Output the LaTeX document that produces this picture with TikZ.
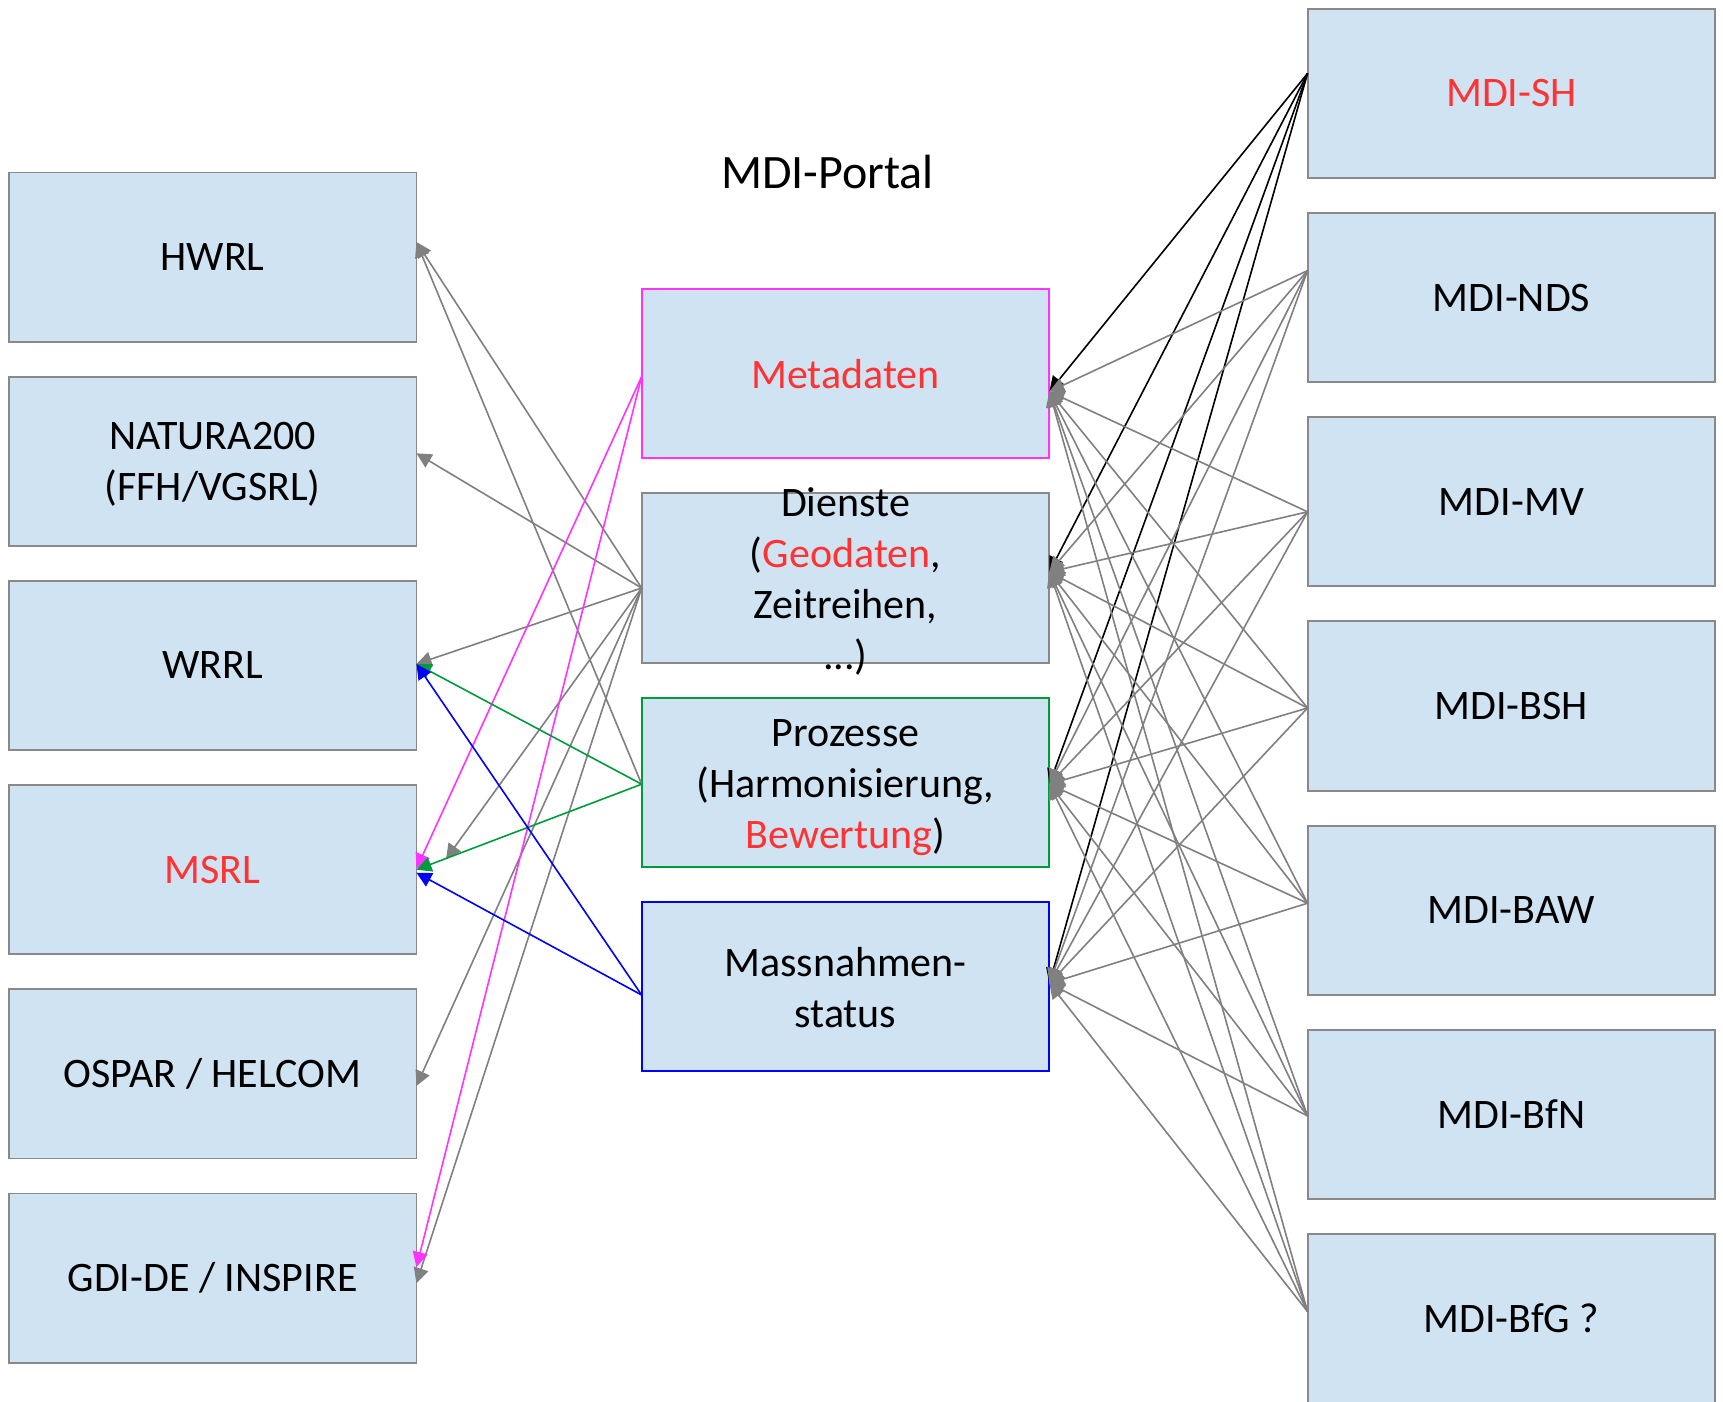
\documentclass[tikz,border=0pt]{standalone}
\usepackage{fontspec}
\setmainfont{Carlito}
\usetikzlibrary{arrows.meta,calc}
\definecolor{boxfill}{RGB}{207,227,242}
\definecolor{boxline}{RGB}{137,137,137}
\definecolor{conngray}{RGB}{128,128,128}
\definecolor{txtred}{RGB}{255,51,51}
\definecolor{magline}{RGB}{255,51,255}
\definecolor{grnline}{RGB}{0,155,60}
\definecolor{bluline}{RGB}{0,0,255}
\begin{document}
\begin{tikzpicture}[x=1pt,y=-1pt,
  box/.style={draw=boxline, fill=boxfill, line width=1.9pt, minimum width=407.7pt,
    minimum height=169.2pt, inner sep=0pt, outer sep=0pt, align=center,
    font=\fontsize{42}{51}\selectfont},
  lbl/.style={inner sep=0pt, align=center, font=\fontsize{42}{51}\selectfont},
  conn/.style={line width=1.6pt, -{Triangle[length=15pt,width=15pt]}},
  gconn/.style={conn, conngray},
  kconn/.style={conn, black},
  mconn/.style={conn, magline},
  grconn/.style={conn, grnline},
  bconn/.style={conn, bluline}
]
\useasboundingbox (0,0) rectangle (1723,1401);
\fill[white] (0,0) rectangle (1723,1401);

% title
\node[anchor=base, font=\fontsize{48}{58}\selectfont] (title) at (827.5,188.3) {MDI-Portal};

% left column
\node[box] (hwrl)   at (212.6,257.1)  {HWRL};
\node[box] (natura) at (212.6,461.3)  {};
\node[lbl] (naturatxt) at ($(natura.center)+(0,3.3)$) {NATURA200\\(FFH/VGSRL)};
\node[box] (wrrl)   at (212.6,665.5)  {WRRL};
\node[box] (msrl)   at (212.6,869.7)  {\textcolor{txtred}{MSRL}};
\node[box] (ospar)  at (212.6,1073.9) {OSPAR / HELCOM};
\node[box] (gdi)    at (212.6,1278.1) {GDI-DE / INSPIRE};

% middle column
\node[box, draw=magline] (meta)    at (845.5,373.6) {\textcolor{txtred}{Metadaten}};
\node[box]               (dienste) at (845.5,578.0) {};
\node[lbl] (diensttxt) at ($(dienste.center)+(0,3.8)$) {Dienste\\(\textcolor{txtred}{Geodaten},\\Zeitreihen,\\...)};
\node[box, draw=grnline] (proz)    at (845.5,782.2) {};
\node[lbl] (proztxt) at ($(proz.center)+(0,5.5)$) {Prozesse\\(Harmonisierung,\\\textcolor{txtred}{Bewertung})};
\node[box, draw=bluline] (mass)    at (845.5,986.4) {};
\node[lbl] (masstxt) at ($(mass.center)+(0,0.8)$) {Massnahmen-\\status};

% right column
\node[box] (sh)  at (1511.4,93.4)   {\textcolor{txtred}{MDI-SH}};
\node[box] (nds) at (1511.4,297.6)  {MDI-NDS};
\node[box] (mv)  at (1511.4,501.8)  {MDI-MV};
\node[box] (bsh) at (1511.4,706.0)  {MDI-BSH};
\node[box] (baw) at (1511.4,910.2)  {MDI-BAW};
\node[box] (bfn) at (1511.4,1114.4) {MDI-BfN};
\node[box] (bfg) at (1511.4,1318.6) {MDI-BfG ?};

\coordinate (msrlend) at (446,859);

% right side: black from MDI-SH
\foreach \t/\td in {meta/18, dienste/-6, proz/2, mass/-3}
  \draw[kconn] ($(sh.west)+(0,-20)$) -- ($(\t.east)+(0,\td)$);
% right side: gray
\foreach \s/\sd in {nds/-27, mv/10, bsh/2, baw/-7, bfn/1.5, bfg/-7}
  \foreach \t/\td in {meta/18, dienste/-6, proz/2, mass/-3}
    \draw[gconn] ($(\s.west)+(0,\sd)$) -- ($(\t.east)+(0,\td)$);

% left side: gray
\draw[gconn] ($(dienste.west)+(0,10)$) -- ($(hwrl.east)+(0,-15)$);
\draw[gconn] ($(proz.west)+(0,2)$) -- ($(hwrl.east)+(0,-15)$);
\draw[gconn] ($(dienste.west)+(0,10)$) -- ($(natura.east)+(0,-8)$);
\draw[gconn] ($(dienste.west)+(0,10)$) -- ($(wrrl.east)+(0,-1.5)$);
\draw[gconn] ($(dienste.west)+(0,10)$) -- (msrlend);
\draw[gconn] ($(dienste.west)+(0,10)$) -- ($(ospar.east)+(0,12)$);
\draw[gconn] ($(dienste.west)+(0,10)$) -- ($(gdi.east)+(0,5)$);

% left side: coloured
\draw[mconn] ($(meta.west)+(0,3)$) -- ($(msrl.east)+(0,-1)$);
\draw[mconn] ($(meta.west)+(0,3)$) -- ($(gdi.east)+(0,-11)$);
\draw[grconn] ($(proz.west)+(0,2)$) -- ($(wrrl.east)+(0,-1.5)$);
\draw[grconn] ($(proz.west)+(0,2)$) -- ($(msrl.east)+(0,0)$);
\draw[bconn] ($(mass.west)+(0,8.6)$) -- ($(wrrl.east)+(0,-1.5)$);
\draw[bconn] ($(mass.west)+(0,8.6)$) -- ($(msrl.east)+(0,3)$);
\end{tikzpicture}
\end{document}
